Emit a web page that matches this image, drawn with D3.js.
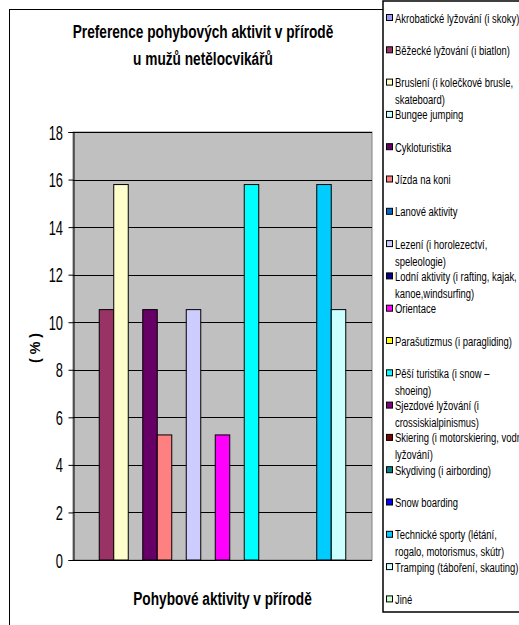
<!DOCTYPE html>
<html>
<head>
<meta charset="utf-8">
<script src="https://cdn.jsdelivr.net/npm/d3@7/dist/d3.min.js"></script>
<style>
  html, body { margin: 0; padding: 0; background: #ffffff; }
  svg { display: block; }
  text { font-family: "Liberation Sans", Arial, sans-serif; fill: #000; }
</style>
</head>
<body>
<svg id="chart" width="519" height="625"></svg>
<script>
// Activity names (legend order); "\n" marks where a legend label wraps
const activities = [
  "Akrobatické lyžování (i skoky)",
  "Běžecké lyžování (i biatlon)",
  "Bruslení (i kolečkové brusle,\nskateboard)",
  "Bungee jumping",
  "Cykloturistika",
  "Jízda na koni",
  "Lanové aktivity",
  "Lezení (i horolezectví,\nspeleologie)",
  "Lodní aktivity (i rafting, kajak,\nkanoe,windsurfing)",
  "Orientace",
  "Parašutizmus (i paragliding)",
  "Pěší turistika (i snow –\nshoeing)",
  "Sjezdové lyžování (i\ncrossiskialpinismus)",
  "Skiering (i motorskiering, vodní\nlyžování)",
  "Skydiving (i airbording)",
  "Snow boarding",
  "Technické sporty (létání,\nrogalo, motorismus, skútr)",
  "Tramping (táboření, skauting)",
  "Jiné"
];

// Share of respondents choosing each activity (%)
const shares = [0, 10.53, 15.79, 0, 10.53, 5.26, 0, 10.53, 0, 5.26, 0, 15.79, 0, 0, 0, 0, 15.79, 10.53, 0];

// Series fill colours
const colors = [
  "#9999FF", "#993366", "#FFFFCC", "#CCFFFF", "#660066", "#FF8080", "#0066CC",
  "#CCCCFF", "#000080", "#FF00FF", "#FFFF00", "#00FFFF", "#800080", "#800000",
  "#008080", "#0000FF", "#00CCFF", "#CCFFFF", "#CCFFCC"
];

const yTicks = [0, 2, 4, 6, 8, 10, 12, 14, 16, 18];

const chartTitle = ["Preference pohybových aktivit v přírodě", "u mužů netělocvikářů"];
const xTitle = "Pohybové aktivity v přírodě";
const yTitle = "( % )";

// horizontal squeeze giving the narrow lettering
const SQ_TITLE = 0.72;
const SQ_TICK = 0.66;
const SQ_LEGEND = 0.70;

const svg = d3.select("#chart");

// place a text element at (x, y) with narrowed glyphs
function placeNarrow(sel, x, y, sq) {
  return sel.attr("x", 0).attr("y", 0)
    .attr("transform", (d, i) => {
      const px = typeof x === "function" ? x(d, i) : x;
      const py = typeof y === "function" ? y(d, i) : y;
      return `translate(${px},${py}) scale(${sq},1)`;
    });
}

// outer chart frame
svg.append("rect")
  .attr("x", 9.5).attr("y", 9.5)
  .attr("width", 520).attr("height", 640)
  .attr("fill", "#fff").attr("stroke", "#000").attr("stroke-width", 1);

// plot area
const plot = { left: 73, top: 132, right: 372, bottom: 560 };

const y = d3.scaleLinear().domain([0, 18]).range([plot.bottom, plot.top]);
const x = d3.scaleBand()
  .domain(d3.range(activities.length))
  .range([plot.left, plot.right])
  .paddingInner(0)
  .paddingOuter(0.81);

svg.append("rect")
  .attr("x", plot.left).attr("y", plot.top)
  .attr("width", plot.right - plot.left).attr("height", plot.bottom - plot.top)
  .attr("fill", "#C0C0C0")
  .attr("stroke", "#808080").attr("stroke-width", 1);

// horizontal gridlines
svg.append("g")
  .selectAll("line")
  .data(yTicks.filter(t => t > 0))
  .join("line")
  .attr("x1", plot.left).attr("x2", plot.right)
  .attr("y1", d => Math.round(y(d)) + 0.5).attr("y2", d => Math.round(y(d)) + 0.5)
  .attr("stroke", "#000").attr("stroke-width", 1);

// bars
svg.append("g")
  .selectAll("rect")
  .data(shares.map((v, i) => ({ v, i })).filter(d => d.v > 0))
  .join("rect")
  .attr("x", d => x(d.i))
  .attr("y", d => y(d.v))
  .attr("width", x.bandwidth())
  .attr("height", d => y(0) - y(d.v))
  .attr("fill", d => colors[d.i])
  .attr("stroke", "#000").attr("stroke-width", 1);

// y axis
const yAxis = d3.axisLeft(y)
  .tickValues(yTicks)
  .tickSize(5)
  .tickPadding(6)
  .tickFormat(d3.format("d"));

const gy = svg.append("g")
  .attr("transform", `translate(${plot.left + 0.5},0)`)
  .call(yAxis);
gy.attr("font-family", null).attr("font-size", null);
gy.select(".domain").attr("stroke", "#000");
gy.selectAll(".tick line").attr("stroke", "#000");
gy.selectAll(".tick text")
  .attr("font-size", 19.5)
  .attr("fill", "#000")
  .attr("dy", "0.36em")
  .call(placeNarrow, -10.5, 0, SQ_TICK);

// x axis line
svg.append("line")
  .attr("x1", plot.left).attr("x2", plot.right)
  .attr("y1", plot.bottom + 0.5).attr("y2", plot.bottom + 0.5)
  .attr("stroke", "#000").attr("stroke-width", 1);

// titles
svg.append("g")
  .selectAll("text")
  .data(chartTitle)
  .join("text")
  .attr("text-anchor", "middle")
  .attr("font-weight", "bold")
  .attr("font-size", 19)
  .text(d => d)
  .call(placeNarrow, 203, (d, i) => 38 + i * 27, SQ_TITLE);

svg.append("text")
  .attr("text-anchor", "middle")
  .attr("font-weight", "bold")
  .attr("font-size", 19)
  .text(xTitle)
  .call(placeNarrow, (plot.left + plot.right) / 2, 605, SQ_TITLE);

svg.append("text")
  .attr("text-anchor", "middle")
  .attr("font-weight", "bold")
  .attr("font-size", 19)
  .attr("x", 0).attr("y", 0)
  .attr("transform", "translate(40,348) rotate(-90) scale(0.75,0.8)")
  .text(yTitle);

// legend
const legend = svg.append("g");
legend.append("rect")
  .attr("x", 383).attr("y", 1)
  .attr("width", 150).attr("height", 611)
  .attr("fill", "#fff").attr("stroke", "#000").attr("stroke-width", 1.5);

const rowStep = 32.3;
const items = legend.selectAll("g.item")
  .data(activities)
  .join("g")
  .attr("class", "item")
  .attr("transform", (d, i) => `translate(0,${18 + i * rowStep})`);

items.append("rect")
  .attr("x", 386.5).attr("y", -3.5)
  .attr("width", 6).attr("height", 6)
  .attr("fill", (d, i) => colors[i])
  .attr("stroke", "#000").attr("stroke-width", 1);

items.each(function(d) {
  const lines = d.split("\n");
  d3.select(this).selectAll("text")
    .data(lines)
    .join("text")
    .attr("font-size", 13.5)
    .text(l => l)
    .call(placeNarrow, 395, (l, j) => 4.5 + j * 17, SQ_LEGEND);
});
</script>
</body>
</html>
